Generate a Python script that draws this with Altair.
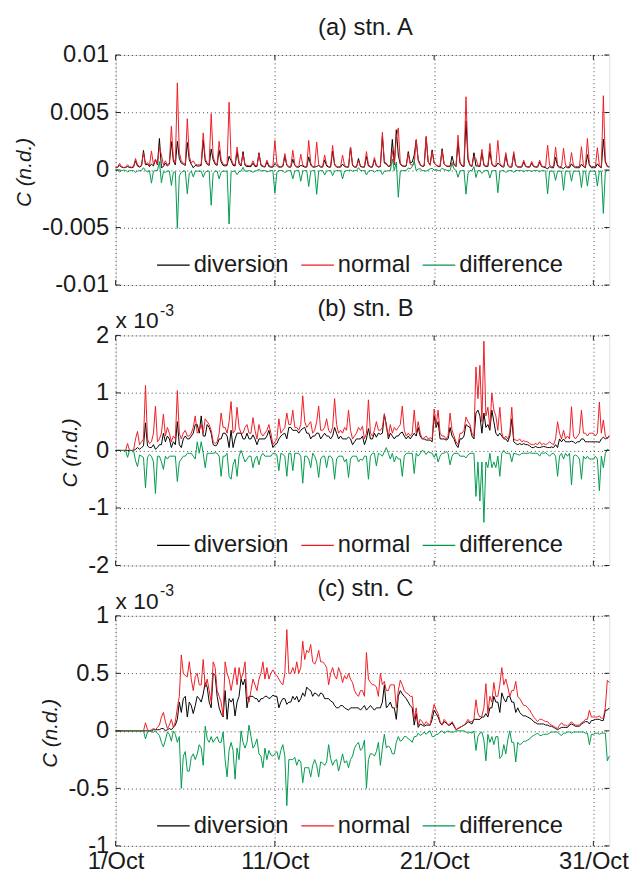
import altair as alt
import pandas as pd

FONT = "Liberation Sans"
TXT = "#1a1a1a"
SERIES = ["diversion", "normal", "difference"]
COLORS = ["#000000", "#ee1c24", "#00994c"]

# time axis: days of October, 3-hourly samples (8 per day), 1 Oct 00h .. 1 Nov 00h
N_PER_DAY = 8
N_DAYS = 31
days = [1 + i / N_PER_DAY for i in range(N_DAYS * N_PER_DAY + 1)]

# ---------- (a) stn. A  (values in units of 1e-3) ----------
a_normal = [
    0.2, 0.25, 0.57, 0.3, 0.22, 0.25, 0.46, 0.28,
    0.25, 0.3, 1.0, 0.45, 0.3, 0.4, 1.5, 0.5,
    0.66, 0.35, 1.66, 0.45, 0.94, 0.5, 2.0, 1.3,
    0.45, 0.8, 0.45, 0.6, 3.8, 1.0, 0.6, 7.57,
    1.5, 0.8, 0.6, 0.5, 4.46, 1.2, 0.6, 0.8,
    0.5, 0.45, 0.45, 0.5, 3.23, 1.0, 0.6, 0.5,
    4.89, 1.2, 0.6, 0.5, 2.5, 0.9, 0.5, 0.45,
    0.5, 5.89, 1.0, 0.5, 0.45, 2.0, 0.7, 0.45,
    1.37, 0.5, 0.4, 0.35, 0.4, 0.8, 0.4, 0.35,
    1.43, 0.5, 0.35, 0.3, 0.86, 0.4, 0.3, 0.3,
    2.57, 0.6, 0.3, 0.3, 0.35, 1.43, 0.5, 0.3,
    0.3, 1.71, 0.5, 0.3, 0.3, 1.37, 0.45, 0.3,
    0.3, 2.57, 0.6, 0.3, 0.3, 2.43, 0.5, 0.3,
    0.3, 1.31, 0.45, 0.3, 0.3, 2.14, 0.55, 0.3,
    0.3, 0.3, 1.29, 0.4, 0.3, 0.3, 2.0, 0.5,
    0.3, 0.3, 0.8, 0.35, 0.3, 0.3, 1.6, 0.45,
    0.3, 0.3, 1.09, 0.4, 0.3, 0.35, 3.29, 0.7,
    0.6, 0.35, 0.4, 1.7, 0.5, 2.8, 3.66, 0.6,
    0.4, 0.35, 0.4, 1.43, 0.5, 0.4, 0.5, 2.66,
    0.8, 0.4, 0.35, 0.4, 2.94, 0.7, 0.4, 1.6,
    0.6, 0.4, 0.35, 0.35, 1.7, 0.5, 0.35, 0.35,
    0.35, 0.66, 0.4, 0.35, 3.03, 0.7, 0.4, 0.35,
    6.37, 1.2, 0.45, 0.35, 1.2, 1.0, 0.4, 0.35,
    1.8, 0.5, 0.35, 0.35, 2.31, 0.6, 0.35, 0.35,
    2.57, 0.6, 0.35, 0.3, 1.51, 0.5, 0.3, 0.3,
    1.6, 0.45, 0.3, 0.3, 0.3, 0.86, 0.35, 0.3,
    0.3, 0.74, 0.35, 0.3, 0.3, 0.86, 0.35, 0.3,
    0.3, 2.17, 0.4, 0.3, 0.3, 2.0, 0.45, 0.3,
    0.3, 1.89, 0.4, 0.3, 0.3, 1.51, 0.4, 0.3,
    0.3, 0.3, 2.03, 0.4, 0.3, 2.74, 0.5, 0.3,
    0.3, 0.3, 1.94, 0.4, 0.3, 6.46, 0.8, 0.35,
    0.3,
]
a_diversion = [
    0.2, 0.22, 0.4, 0.25, 0.2, 0.22, 0.3, 0.22,
    0.2, 0.25, 0.8, 0.35, 0.25, 0.35, 1.7, 0.45,
    0.5, 0.3, 0.52, 0.35, 0.9, 0.45, 2.74, 0.2,
    0.3, 0.6, 0.35, 0.5, 2.46, 0.8, 0.45, 2.5,
    1.0, 0.6, 0.5, 0.4, 2.4, 0.9, 0.5, 0.2,
    0.4, 0.35, 0.35, 0.4, 2.6, 0.8, 0.5, 0.4,
    1.83, 0.9, 0.5, 0.4, 1.73, 0.7, 0.4, 0.35,
    0.4, 1.2, 0.8, 0.4, 0.35, 1.6, 0.55, 0.35,
    1.6, 0.4, 0.3, 0.3, 0.3, 0.6, 0.3, 0.3,
    1.5, 0.4, 0.3, 0.25, 0.7, 0.3, 0.25, 0.25,
    0.57, 0.4, 0.25, 0.25, 0.3, 1.2, 0.4, 0.25,
    0.25, 0.94, 0.4, 0.25, 0.25, 0.4, 0.35, 0.25,
    0.25, 1.14, 0.45, 0.25, 0.25, 0.32, 0.4, 0.25,
    0.25, 0.88, 0.35, 0.25, 0.25, 1.65, 0.45, 0.25,
    0.25, 0.25, 0.52, 0.3, 0.25, 0.25, 2.0, 0.4,
    0.25, 0.25, 1.0, 0.3, 0.25, 0.25, 1.17, 0.35,
    0.25, 0.25, 0.9, 0.35, 0.25, 0.3, 2.9, 0.6,
    0.5, 0.3, 0.35, 2.66, 0.45, 3.5, 1.3, 0.5,
    0.35, 0.3, 0.35, 1.6, 0.6, 0.7, 1.3, 2.6,
    0.9, 0.5, 0.3, 0.35, 2.84, 0.7, 0.5, 1.75,
    0.6, 0.45, 0.3, 0.3, 1.85, 0.55, 0.35, 0.3,
    0.3, 1.2, 0.5, 0.3, 2.4, 0.6, 0.35, 0.3,
    4.27, 0.9, 0.4, 0.3, 1.5, 0.35, 0.35, 0.3,
    1.5, 0.4, 0.3, 0.3, 1.62, 0.5, 0.3, 0.3,
    0.6, 0.45, 0.3, 0.25, 1.3, 0.4, 0.25, 0.25,
    1.4, 0.4, 0.25, 0.25, 0.25, 0.7, 0.3, 0.25,
    0.25, 0.6, 0.3, 0.25, 0.25, 0.7, 0.3, 0.25,
    0.2, 0.1, 0.3, 0.2, 0.2, 1.1, 0.35, 0.2,
    0.2, 0.12, 0.3, 0.2, 0.2, 0.54, 0.3, 0.2,
    0.2, 0.2, 0.5, 0.3, 0.2, 1.34, 0.4, 0.2,
    0.2, 0.2, 0.54, 0.3, 0.2, 2.69, 0.7, 0.3,
    0.25,
]

# ---------- (b) stn. B  (units of 1e-3) ----------
b_normal = [
    0, 0, 0, 0, 0, 0, 0.12, 0,
    0, 0, 0.2, 0.33, 0.1, 0.15, 0.2, 1.13,
    0.2, 0.12, 0.15, 0.3, 0.77, 0.15, 0.2, 0.3,
    0.63, 0.25, 0.4, 0.3, 0.15, 0.25, 0.2, 1.04,
    0.3, 0.2, 0.3, 0.35, 0.25, 0.25, 0.3, 0.4,
    0.6, 0.3, 0.35, 0.45, 0.3, 0.55, 0.5, 0.45,
    0.35, 0.15, 0.12, 0.15, 0.3, 0.65, 0.4, 0.4,
    0.3, 0.5, 0.85, 0.3, 0.35, 0.75, 0.4, 0.3,
    0.3, 0.4, 0.45, 0.3, 0.3, 0.57, 0.35, 0.2,
    0.45, 0.3, 0.25, 0.3, 0.35, 0.45, 0.3, 0.1,
    0.15, 0.2, 0.55, 0.3, 0.35, 0.4, 0.65, 0.45,
    0.45, 0.7, 0.4, 0.4, 0.35, 0.45, 0.95, 0.5,
    0.4, 0.45, 0.5, 0.3, 0.35, 0.5, 0.77, 0.35,
    0.35, 0.4, 0.55, 0.35, 0.3, 0.4, 0.9, 0.45,
    0.3, 0.35, 0.3, 0.4, 0.35, 0.7, 0.35, 0.2,
    0.25, 0.3, 0.4, 0.35, 0.42, 0.2, 0.3, 0.88,
    0.3, 0.25, 0.35, 0.5, 0.35, 0.35, 0.4, 0.64,
    0.4, 0.25, 0.45, 0.3, 0.4, 0.35, 0.4, 0.45,
    0.77, 0.35, 0.25, 0.3, 0.25, 0.3, 0.7, 0.3,
    0.5, 0.3, 0.2, 0.22, 0.25, 0.2, 0.22, 0.2,
    0.72, 0.45, 0.7, 0.3, 0.25, 0.25, 0.2, 0.25,
    0.65, 0.35, 0.25, 0.15, 0.1, 0.3, 0.3, 0.35,
    0.58, 0.5, 0.45, 0.3, 0.25, 1.45, 0.9, 1.48,
    0.5, 1.9, 0.6, 0.75, 0.4, 1.0, 0.7, 0.6,
    0.35, 0.75, 0.3, 0.2, 0.25, 0.2, 0.3, 0.75,
    0.2, 0.18, 0.17, 0.2, 0.15, 0.17, 0.15, 0.15,
    0.12, 0.1, 0.1, 0.12, 0.1, 0.15, 0.1, 0.12,
    0.1, 0.12, 0.15, 0.12, 0.1, 0.2, 0.5, 0.3,
    0.2, 0.35, 0.2, 0.25, 0.2, 0.76, 0.25, 0.2,
    0.25, 0.3, 0.7, 0.3, 0.3, 0.25, 0.3, 0.3,
    0.3, 0.25, 0.3, 0.84, 0.3, 0.53, 0.25, 0.2,
    0.25,
]
b_diversion = [
    0, 0, 0, 0, 0, 0, 0, 0,
    0, 0, 0.02, 0.05, 0.02, 0.05, 0.08, 0.48,
    0.08, 0.05, 0.05, 0.1, 0.02, 0.05, 0.1, 0.1,
    0.3, 0.15, 0.25, 0.2, 0.05, 0.15, 0.1, 0.5,
    0.1, 0.05, 0.2, 0.25, 0.2, 0.2, 0.25, 0.3,
    0.45, 0.45, 0.3, 0.6, 0.25, 0.25, 0.45, 0.4,
    0.3, 0.1, 0.08, 0.1, 0.2, 0.2, 0.3, 0.3,
    0.25, 0.05, 0.35, 0.05, 0.2, 0.3, 0.3, 0.3,
    0.2, 0.2, 0.3, 0.2, 0.2, 0.27, 0.2, 0.1,
    0.2, 0.2, 0.2, 0.2, 0.25, 0.35, 0.2, 0.05,
    0.1, 0.12, 0.2, 0.25, 0.28, 0.3, 0.2, 0.4,
    0.4, 0.35, 0.35, 0.35, 0.3, 0.35, 0.38, 0.4,
    0.3, 0.3, 0.2, 0.25, 0.25, 0.3, 0.3, 0.2,
    0.25, 0.3, 0.25, 0.25, 0.2, 0.25, 0.4, 0.3,
    0.2, 0.25, 0.2, 0.2, 0.2, 0.23, 0.2, 0.1,
    0.15, 0.2, 0.2, 0.2, 0.25, 0.1, 0.2, 0.38,
    0.2, 0.2, 0.3, 0.23, 0.3, 0.28, 0.3, 0.62,
    0.45, 0.2, 0.3, 0.25, 0.2, 0.25, 0.25, 0.3,
    0.32, 0.25, 0.2, 0.25, 0.2, 0.25, 0.3, 0.25,
    0.4, 0.25, 0.2, 0.2, 0.18, 0.18, 0.18, 0.15,
    0.6, 0.4, 0.5, 0.2, 0.2, 0.2, 0.18, 0.2,
    0.4, 0.25, 0.2, 0.1, 0.05, 0.2, 0.2, 0.25,
    0.45, 0.42, 0.4, 0.25, 0.2, 0.65, 0.7, 0.6,
    0.3, 0.65, 0.4, 0.45, 0.35, 0.7, 0.5, 0.3,
    0.25, 0.3, 0.25, 0.2, 0.2, 0.15, 0.25, 0.55,
    0.15, 0.12, 0.1, 0.12, 0.1, 0.12, 0.1, 0.1,
    0.08, 0.05, 0.05, 0.07, 0.05, 0.05, 0.06, 0.07,
    0.06, 0.05, 0.05, 0.06, 0.05, 0.1, 0.05, 0.2,
    0.15, 0.2, 0.15, 0.15, 0.15, 0.16, 0.15, 0.12,
    0.15, 0.15, 0.2, 0.2, 0.15, 0.15, 0.15, 0.15,
    0.15, 0.15, 0.15, 0.14, 0.2, 0.23, 0.2, 0.22,
    0.25,
]

# ---------- (c) stn. C  (units of 1e-3) ----------
c_normal = [
    0, 0, 0, 0, 0, 0, 0, 0,
    0, 0, 0, 0, 0, 0, 0, 0.07,
    0.01, 0.0, 0.01, 0.02, 0.01, 0.03, 0.05, 0.12,
    0.16, 0.08, 0.02, 0.05, 0.1, 0.03, 0.08, 0.2,
    0.3, 0.66, 0.5, 0.48, 0.47, 0.6, 0.45, 0.35,
    0.47, 0.5, 0.4, 0.4, 0.62, 0.38, 0.45, 0.35,
    0.25, 0.6, 0.55, 0.35, 0.3, 0.25, 0.13, 0.6,
    0.5, 0.45, 0.35, 0.45, 0.55, 0.4, 0.55, 0.45,
    0.5, 0.6, 0.3, 0.25, 0.35, 0.45, 0.4, 0.35,
    0.45, 0.5, 0.6, 0.45, 0.55, 0.45, 0.5, 0.53,
    0.5, 0.48, 0.45, 0.42, 0.4, 0.5, 0.88, 0.5,
    0.5, 0.55, 0.5, 0.6, 0.5, 0.55, 0.78, 0.62,
    0.7, 0.68, 0.75, 0.6, 0.58, 0.62, 0.7, 0.6,
    0.6, 0.58, 0.55, 0.4, 0.5, 0.55, 0.48, 0.45,
    0.55, 0.5, 0.42, 0.48, 0.45, 0.5, 0.45, 0.42,
    0.35, 0.32, 0.3, 0.35, 0.35, 0.3, 0.68, 0.45,
    0.42, 0.4, 0.4, 0.38, 0.3, 0.5, 0.4, 0.43,
    0.35, 0.35, 0.4, 0.4, 0.4, 0.2, 0.35, 0.44,
    0.4, 0.35, 0.33, 0.32, 0.3, 0.3, 0.1, 0.2,
    0.05, 0.1, 0.08, 0.05, 0.08, 0.06, 0.05, 0.15,
    0.23, 0.18, 0.15, 0.08, 0.05, 0.1, 0.08, 0.05,
    0.06, 0.08, 0.05, 0.01, 0.02, 0.03, 0.04, 0.05,
    0.07, 0.1, 0.08, 0.08, 0.1, 0.27, 0.15, 0.12,
    0.13, 0.2, 0.41, 0.15, 0.3, 0.25, 0.42, 0.3,
    0.3, 0.4, 0.55, 0.4, 0.45, 0.38, 0.3, 0.35,
    0.35, 0.43, 0.3, 0.28, 0.25, 0.22, 0.22, 0.2,
    0.18, 0.15, 0.12, 0.1, 0.08, 0.1, 0.1, 0.09,
    0.08, 0.08, 0.06, 0.05, 0.04, 0.03, 0.02, 0.05,
    0.07, 0.05, 0.05, 0.04, 0.06, 0.08, 0.06, 0.05,
    0.05, 0.05, 0.07, 0.08, 0.1, 0.1, 0.18, 0.12,
    0.12, 0.12, 0.12, 0.13, 0.11, 0.11, 0.2, 0.44,
    0.42,
]
c_diversion = [
    0, 0, 0, 0, 0, 0, 0, 0,
    0, 0, 0, 0, 0, 0, 0, 0,
    0, 0, 0, 0.01, 0.01, 0.01, 0.01, 0.02,
    0.02, 0.0, 0.01, 0.02, 0.01, 0.03, 0.05, 0.1,
    0.25, 0.16, 0.28, 0.3, 0.12, 0.25, 0.22, 0.15,
    0.22, 0.3, 0.28, 0.25, 0.32, 0.42, 0.38, 0.25,
    0.2, 0.5, 0.48, 0.3, 0.2, 0.15, 0.12, 0.35,
    0.1, 0.28, 0.25, 0.28, 0.13, 0.25, 0.3, 0.45,
    0.4, 0.45, 0.2, 0.3, 0.3, 0.3, 0.28, 0.28,
    0.25, 0.28, 0.28, 0.3, 0.3, 0.28, 0.29, 0.31,
    0.3, 0.3, 0.2, 0.25, 0.28, 0.28, 0.23, 0.25,
    0.25, 0.3, 0.27, 0.3, 0.25, 0.28, 0.33, 0.3,
    0.38, 0.36, 0.35, 0.3, 0.33, 0.32, 0.3, 0.33,
    0.32, 0.28, 0.28, 0.28, 0.26, 0.25, 0.22, 0.2,
    0.2, 0.22, 0.22, 0.2, 0.19, 0.18, 0.2, 0.2,
    0.2, 0.2, 0.2, 0.18, 0.2, 0.22, 0.18, 0.2,
    0.22, 0.2, 0.18, 0.2, 0.2, 0.2, 0.25, 0.4,
    0.2, 0.22, 0.25, 0.2, 0.2, 0.1, 0.3, 0.35,
    0.32, 0.3, 0.28, 0.25, 0.22, 0.2, 0.05, 0.15,
    0.03, 0.06, 0.05, 0.04, 0.05, 0.05, 0.05, 0.1,
    0.18, 0.15, 0.12, 0.07, 0.05, 0.08, 0.07, 0.05,
    0.05, 0.07, 0.04, 0.01, 0.02, 0.03, 0.04, 0.05,
    0.06, 0.08, 0.07, 0.06, 0.1, 0.1, 0.1, 0.1,
    0.12, 0.12, 0.15, 0.12, 0.2, 0.2, 0.3, 0.25,
    0.25, 0.16, 0.33, 0.28, 0.25, 0.3, 0.3, 0.25,
    0.25, 0.16, 0.2, 0.16, 0.14, 0.13, 0.13, 0.12,
    0.11, 0.1, 0.08, 0.07, 0.06, 0.06, 0.06, 0.06,
    0.05, 0.05, 0.04, 0.04, 0.03, 0.02, 0.01, 0.02,
    0.03, 0.03, 0.03, 0.03, 0.05, 0.06, 0.05, 0.04,
    0.04, 0.04, 0.06, 0.07, 0.08, 0.08, 0.06, 0.09,
    0.09, 0.1, 0.1, 0.1, 0.09, 0.09, 0.18, 0.18,
    0.2,
]

for arr in (a_normal, a_diversion, b_normal, b_diversion, c_normal, c_diversion):
    assert len(arr) == len(days), len(arr)

x_ticks = [1, 11, 21, 31]
a_yticks = [-0.01, -0.005, 0, 0.005, 0.01]
b_yticks = [-2, -1, 0, 1, 2]
c_yticks = [-1, -0.5, 0, 0.5, 1]

W, H = 500, 233


def make_df(div, norm, scale):
    recs = []
    for t, d, n in zip(days, div, norm):
        recs.append({"day": t, "series": "diversion", "value": d * scale})
        recs.append({"day": t, "series": "normal", "value": n * scale})
        recs.append({"day": t, "series": "difference", "value": (d - n) * scale})
    return pd.DataFrame(recs)


def panel(df, title, ydom, yticks, title_x, show_x, multiplier):
    xscale = alt.Scale(domain=[1, 32], nice=False, zero=False)
    yscale = alt.Scale(domain=ydom, nice=False, zero=False)
    xaxis = alt.Axis(
        values=x_ticks, labels=show_x, labelExpr="datum.value + '/Oct'",
        title=None, ticks=False, domain=False, grid=True,
        gridDash=[1, 3], gridColor="#444", gridWidth=1,
        labelFont=FONT, labelFontSize=24, labelColor=TXT, labelPadding=4,
        labelFlush=False, labelOverlap=False,
    )
    yaxis = alt.Axis(
        values=yticks, format="~g", title="C (n.d.)", titleFont=FONT, titleFontSize=21,
        titleFontStyle="italic", titleFontWeight="normal", titleColor=TXT,
        titleX=title_x, titleY=H / 2 + 2, titleAngle=270, titleAlign="center",
        titleBaseline="middle",
        ticks=False, domain=False, grid=True, gridDash=[1, 3],
        gridColor="#444", gridWidth=1,
        labelFont=FONT, labelFontSize=24, labelColor=TXT, labelPadding=7,
        labelOverlap=False, labelExpr="replace(datum.label, '\u2212', '-')",
    )
    color = alt.Color(
        "series:N",
        scale=alt.Scale(domain=SERIES, range=COLORS),
        legend=alt.Legend(
            title=None, orient="none", legendX=41, legendY=195,
            direction="horizontal", symbolType="stroke", symbolSize=1089,
            symbolStrokeWidth=1.3, labelFont=FONT, labelFontSize=24,
            labelColor=TXT, labelOffset=3, columnPadding=9, padding=0,
            symbolOffset=0, labelLimit=300,
        ),
    )
    lines = alt.Chart(df).mark_line(strokeWidth=1).encode(
        x=alt.X("day:Q", scale=xscale, axis=xaxis),
        y=alt.Y("value:Q", scale=yscale, axis=yaxis),
        color=color,
    )
    ytk = pd.DataFrame({"value": yticks})
    xtk = pd.DataFrame({"day": x_ticks})
    tk = {"color": "#222", "strokeWidth": 1}
    tdf = pd.DataFrame({"t": [title]})
    layers = [
        lines,
        alt.Chart(ytk).mark_rule(**tk).encode(y="value:Q", x=alt.value(0), x2=alt.value(5)),
        alt.Chart(ytk).mark_rule(**tk).encode(y="value:Q", x=alt.value(W - 5), x2=alt.value(W)),
        alt.Chart(xtk).mark_rule(**tk).encode(x="day:Q", y=alt.value(0), y2=alt.value(5)),
        alt.Chart(xtk).mark_rule(**tk).encode(x="day:Q", y=alt.value(H - 5), y2=alt.value(H)),
        alt.Chart(tdf).mark_text(align="center", baseline="middle", font=FONT,
                                 fontSize=24, color=TXT).encode(
            text="t:N", x=alt.value(W / 2 + 3), y=alt.value(-27)),
    ]
    if multiplier:
        mdf = pd.DataFrame({"t": ["x 10"], "e": ["-3"]})
        layers.append(
            alt.Chart(mdf).mark_text(align="left", baseline="alphabetic", font=FONT,
                                     fontSize=23, color=TXT).encode(
                text="t:N", x=alt.value(0), y=alt.value(-7))
        )
        layers.append(
            alt.Chart(mdf).mark_text(align="left", baseline="alphabetic", font=FONT,
                                     fontSize=16, color=TXT).encode(
                text="e:N", x=alt.value(45), y=alt.value(-20))
        )
    return alt.layer(*layers).properties(width=W, height=H)


pa = panel(make_df(a_diversion, a_normal, 1e-3), "(a) stn. A", [-0.01, 0.01], a_yticks, -92, False, False)
pb = panel(make_df(b_diversion, b_normal, 1.0), "(b) stn. B", [-2, 2], b_yticks, -46, False, True)
pc = panel(make_df(c_diversion, c_normal, 1.0), "(c) stn. C", [-1, 1], c_yticks, -66, True, True)

chart = (
    alt.vconcat(pa, pb, pc, spacing=51, bounds="flush")
    .resolve_scale(y="independent", color="independent")
    .resolve_legend(color="independent")
    .properties(padding={"left": 5, "top": 2, "right": 5, "bottom": 2})
    .configure_view(stroke="#222", strokeWidth=1.5)
    .configure(font=FONT)
)

chart.save("out.html", embed_options={"renderer": "svg", "actions": False})
